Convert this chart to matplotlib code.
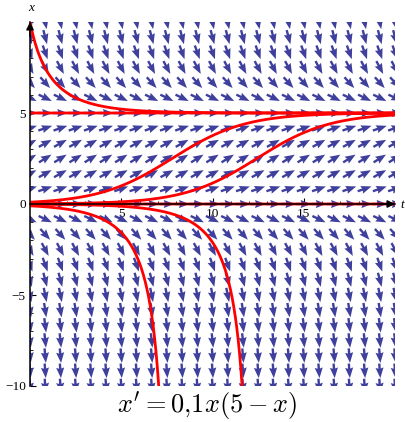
import numpy as np
import matplotlib
matplotlib.use("Agg")
import matplotlib.pyplot as plt

# logistic model x' = r x (K - x)
rate = 0.1
capacity = 5.0

t_limits = [0, 20]
x_limits = [-10, 10]
n_arrows = 25

# starting values x(0) of the red solution curves
initial_values = [10, 5, 0.1, 0.01, 0, -0.01, -0.1]

x_ticks = [-10, -5, 0, 5]
t_ticks = [5, 10, 15]

ARROW_COLOR = "#3f3f9e"
CURVE_COLOR = "#ff0000"


def slope(t, x):
    return rate * x * (capacity - x)


def solution(t, x0):
    # closed form of the logistic equation
    e = np.exp(rate * capacity * t)
    den = capacity - x0 + x0 * e
    x = np.full_like(t, np.nan)
    ok = den > 0
    x[ok] = capacity * x0 * e[ok] / den[ok]
    return x


def main():
    plt.rcParams["mathtext.fontset"] = "cm"
    fig = plt.figure(figsize=(4.05, 4.22), dpi=100)
    ax = fig.add_axes([30 / 405, 36 / 422, 365 / 405, 364 / 422])

    # direction field, unit-length arrows
    tt, xx = np.meshgrid(np.linspace(*t_limits, n_arrows), np.linspace(*x_limits, n_arrows))
    u = np.ones_like(tt)
    v = slope(tt, xx)
    norm = np.hypot(u, v)
    length = 0.8
    ax.quiver(tt, xx, length * u / norm, length * v / norm, angles="xy", scale_units="xy", scale=1,
              pivot="middle", color=ARROW_COLOR, width=0.0065, headwidth=3.4, headlength=4.4,
              headaxislength=4.0, zorder=2)

    # solution curves
    t = np.linspace(*t_limits, 4001)
    for x0 in initial_values:
        ax.plot(t, solution(t, x0), color=CURVE_COLOR, lw=2.0, zorder=3, solid_capstyle="butt")

    ax.set_xlim(*t_limits)
    ax.set_ylim(*x_limits)

    # axes crossing at the origin
    ax.spines["top"].set_visible(False)
    ax.spines["right"].set_visible(False)
    ax.spines["bottom"].set_position(("data", 0))
    for s in ("left", "bottom"):
        ax.spines[s].set_linewidth(1.1)
        ax.spines[s].set_zorder(4)

    ax.set_xticks(t_ticks)
    ax.set_yticks(x_ticks)
    ax.set_xticks(np.arange(1, 20), minor=True)
    ax.set_yticks(np.arange(-9, 11), minor=True)
    ax.tick_params(which="major", direction="in", length=4, width=0.8, labelsize=9.5, pad=3)
    ax.tick_params(which="minor", direction="in", length=2, width=0.6)
    ax.set_yticklabels(["\u221210", "\u22125", "0", "5"])
    for lab in ax.get_xticklabels() + ax.get_yticklabels():
        lab.set_family("Liberation Serif")

    # axis arrowheads
    ax.annotate("", xy=(0, 10), xytext=(0, 9.2), annotation_clip=False,
                arrowprops=dict(arrowstyle="-|>", color="k", lw=1.1, mutation_scale=11, shrinkA=0, shrinkB=0))
    ax.annotate("", xy=(20, 0), xytext=(19.2, 0), annotation_clip=False,
                arrowprops=dict(arrowstyle="-|>", color="k", lw=1.1, mutation_scale=11, shrinkA=0, shrinkB=0))

    fig.text(31 / 405, 1 - 8 / 422, "x", fontsize=9.5, family="Liberation Serif", style="italic",
             ha="center", va="center")
    fig.text(400 / 405, 1 - 205 / 422, "t", fontsize=9.5, family="Liberation Serif", style="italic",
             ha="left", va="center")

    fig.text(207 / 405, 10 / 422, r"$x' = 0{,}1x(5-x)$", fontsize=19, ha="center", va="baseline")

    fig.savefig("out.png", dpi=100)
    plt.close(fig)


if __name__ == "__main__":
    main()
